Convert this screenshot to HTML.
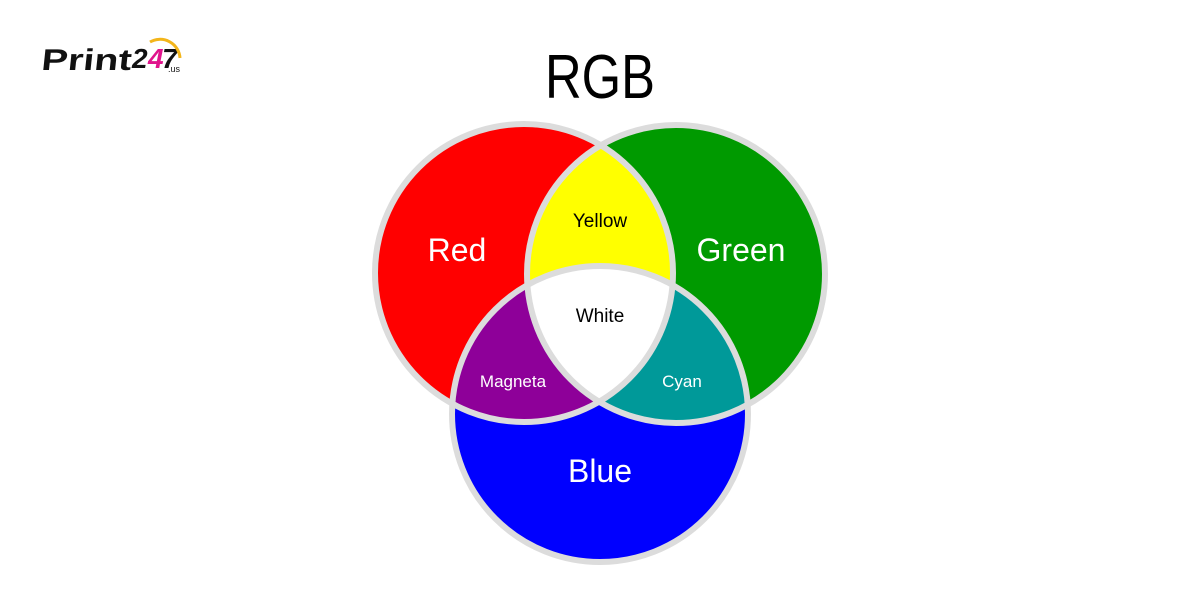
<!DOCTYPE html>
<html><head><meta charset="utf-8"><style>
html,body{margin:0;padding:0;background:#fff;width:1200px;height:600px;overflow:hidden}
</style></head><body>
<svg width="1200" height="600" viewBox="0 0 1200 600" xmlns="http://www.w3.org/2000/svg" font-family="Liberation Sans, sans-serif">
<defs>
<clipPath id="cr"><circle cx="524" cy="273" r="149"/></clipPath>
<clipPath id="cg"><circle cx="676" cy="274" r="149"/></clipPath>
<clipPath id="cb"><circle cx="600" cy="414" r="148"/></clipPath>
</defs>
<!-- logo -->
<text x="48" y="70" font-size="30" font-weight="bold" fill="#111" textLength="90" lengthAdjust="spacingAndGlyphs" transform="skewX(-6)">Print</text>
<text x="132" y="68" font-size="28" font-weight="bold" fill="#111" font-style="italic">2</text>
<text x="148" y="68" font-size="28" font-weight="bold" fill="#e0148c" font-style="italic">4</text>
<text x="162" y="68" font-size="28" font-weight="bold" fill="#111" font-style="italic">7</text>
<text x="168" y="72" font-size="9" fill="#111">.us</text>
<path d="M150 42 A20 20 0 0 1 180 58" fill="none" stroke="#f3b51a" stroke-width="3"/>
<!-- title -->
<text x="600" y="98" font-size="62" fill="#000" text-anchor="middle" textLength="110" lengthAdjust="spacingAndGlyphs">RGB</text>
<!-- circles -->
<circle cx="524" cy="273" r="149" fill="#ff0000"/>
<circle cx="676" cy="274" r="149" fill="#009a00"/>
<circle cx="600" cy="414" r="148" fill="#0000ff"/>
<g clip-path="url(#cr)"><circle cx="676" cy="274" r="149" fill="#ffff00"/><circle cx="600" cy="414" r="148" fill="#8e0099"/></g>
<g clip-path="url(#cg)"><circle cx="600" cy="414" r="148" fill="#009999"/></g>
<g clip-path="url(#cr)"><g clip-path="url(#cg)"><circle cx="600" cy="414" r="148" fill="#ffffff"/></g></g>
<g fill="none" stroke="#dcdcdc" stroke-width="6">
<circle cx="524" cy="273" r="149"/>
<circle cx="676" cy="274" r="149"/>
<circle cx="600" cy="414" r="148"/>
</g>
<g text-anchor="middle">
<text x="457" y="261" font-size="32" fill="#fff">Red</text>
<text x="741" y="261" font-size="32" fill="#fff">Green</text>
<text x="600" y="482" font-size="32" fill="#fff">Blue</text>
<text x="600" y="227" font-size="19" fill="#000">Yellow</text>
<text x="600" y="322" font-size="19" fill="#000">White</text>
<text x="513" y="387" font-size="17" fill="#fff">Magneta</text>
<text x="682" y="387" font-size="17" fill="#fff">Cyan</text>
</g>
</svg>
</body></html>
